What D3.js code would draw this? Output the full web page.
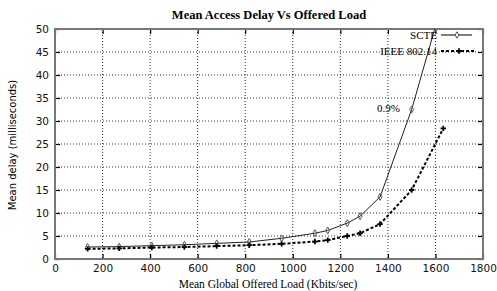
<!DOCTYPE html>
<html>
<head>
<meta charset="utf-8">
<script src="https://cdn.jsdelivr.net/npm/d3@7"></script>
<style>
  body { margin: 0; background: #fff; }
  svg { display: block; }
</style>
</head>
<body>
<svg id="chart" width="497" height="291"></svg>
<script>
// offered load (Kbits/sec)
var load_scte = [137, 270, 407, 544, 680, 817, 953, 1093, 1147, 1229, 1283, 1367, 1500, 1630]
var delay_scte = [2.6, 2.7, 2.9, 3.1, 3.4, 3.7, 4.5, 5.6, 6.2, 7.8, 9.3, 13.5, 32.5, 56]
var load_ieee = [137, 270, 407, 544, 680, 817, 953, 1093, 1147, 1229, 1283, 1367, 1500, 1633]
var delay_ieee = [2.2, 2.3, 2.5, 2.6, 2.8, 3.0, 3.3, 3.8, 4.1, 5.0, 5.6, 7.6, 15, 28.4]
var x_ticks = [0, 200, 400, 600, 800, 1000, 1200, 1400, 1600, 1800]
var y_ticks = [0, 5, 10, 15, 20, 25, 30, 35, 40, 45, 50]

var svg = d3.select('#chart')
var margin = {'top': 29, 'right': 14, 'bottom': 32, 'left': 55}
var w = 497 - margin.left - margin.right
var h = 291 - margin.top - margin.bottom

var x = d3.scaleLinear().domain([0, 1800]).range([0, w])
var y = d3.scaleLinear().domain([0, 50]).range([h, 0])

svg.append('defs').append('clipPath').attr('id', 'clip')
	.append('rect').attr('width', w).attr('height', h)

var g = svg.append('g')
	.attr('transform', 'translate(' + margin.left + ',' + margin.top + ')')

// dotted grid
g.append('g').selectAll('line').data(x_ticks.slice(1, -1)).enter().append('line')
	.attr('x1', function(d) { return x(d) }).attr('x2', function(d) { return x(d) })
	.attr('y1', 0).attr('y2', h)
	.attr('stroke', '#333').attr('stroke-width', 1).attr('stroke-dasharray', '1,2')
g.append('g').selectAll('line').data(y_ticks.slice(1, -1)).enter().append('line')
	.attr('y1', function(d) { return y(d) }).attr('y2', function(d) { return y(d) })
	.attr('x1', 0).attr('x2', w)
	.attr('stroke', '#333').attr('stroke-width', 1).attr('stroke-dasharray', '1,2')

// axes with inward ticks
var fmt = d3.format('d')
g.append('g').attr('transform', 'translate(0,' + h + ')')
	.call(d3.axisBottom(x).tickValues(x_ticks).tickSizeInner(-5).tickSizeOuter(0).tickPadding(6).tickFormat(fmt))
g.append('g')
	.call(d3.axisTop(x).tickValues(x_ticks).tickSizeInner(-5).tickSizeOuter(0).tickFormat(''))
g.append('g')
	.call(d3.axisLeft(y).tickValues(y_ticks).tickSizeInner(-5).tickSizeOuter(0).tickPadding(6).tickFormat(fmt))
g.append('g').attr('transform', 'translate(' + w + ',0)')
	.call(d3.axisRight(y).tickValues(y_ticks).tickSizeInner(-5).tickSizeOuter(0).tickFormat(''))

g.selectAll('.domain').remove()
g.selectAll('.tick line').attr('stroke', '#000').attr('stroke-width', 1.2)
g.selectAll('.tick text').attr('font-family', 'DejaVu Sans').attr('font-size', 10.5).attr('fill', '#111')

// frame
g.append('rect').attr('width', w).attr('height', h)
	.attr('fill', 'none').attr('stroke', '#777').attr('stroke-width', 2)

var plot = g.append('g').attr('clip-path', 'url(#clip)')

var scte = d3.zip(load_scte, delay_scte)
var ieee = d3.zip(load_ieee, delay_ieee)
var line = d3.line().x(function(d) { return x(d[0]) }).y(function(d) { return y(d[1]) })

plot.append('path').datum(scte).attr('d', line)
	.attr('fill', 'none').attr('stroke', '#222').attr('stroke-width', 1)
plot.append('path').datum(ieee).attr('d', line)
	.attr('fill', 'none').attr('stroke', '#000').attr('stroke-width', 2).attr('stroke-dasharray', '3,2')

plot.selectAll('.dia').data(scte).enter().append('path')
	.attr('d', d3.symbol(d3.symbolDiamond, 14))
	.attr('transform', function(d) { return 'translate(' + x(d[0]) + ',' + y(d[1]) + ')' })
	.attr('fill', 'none').attr('stroke', '#555').attr('stroke-width', 1)
plot.selectAll('.plus').data(ieee).enter().append('path')
	.attr('d', d3.symbol(d3.symbolCross, 16))
	.attr('transform', function(d) { return 'translate(' + x(d[0]) + ',' + y(d[1]) + ')' })
	.attr('fill', '#000')

// legend
var lg = g.append('g')
lg.append('text').attr('x', 382).attr('y', 10).attr('text-anchor', 'end')
	.attr('font-family', 'Liberation Serif').attr('font-size', 11).text('SCTE')
lg.append('line').attr('x1', 386).attr('x2', 417).attr('y1', 6).attr('y2', 6)
	.attr('stroke', '#000').attr('stroke-width', 1)
lg.append('path').attr('d', d3.symbol(d3.symbolDiamond, 12)).attr('transform', 'translate(402,6)')
	.attr('fill', '#fff').attr('stroke', '#555')
lg.append('text').attr('x', 382).attr('y', 26).attr('text-anchor', 'end')
	.attr('font-family', 'Liberation Serif').attr('font-size', 11).text('IEEE 802.14')
lg.append('line').attr('x1', 386).attr('x2', 421).attr('y1', 22).attr('y2', 22)
	.attr('stroke', '#000').attr('stroke-width', 2).attr('stroke-dasharray', '3,2')
lg.append('path').attr('d', d3.symbol(d3.symbolCross, 16)).attr('transform', 'translate(404,22)')
	.attr('fill', '#000')

g.append('text').attr('x', 322).attr('y', 83)
	.attr('font-family', 'Liberation Serif').attr('font-size', 11).text('0.9%')

// titles
svg.append('text').attr('x', 269).attr('y', 19).attr('text-anchor', 'middle')
	.attr('font-family', 'Liberation Serif').attr('font-weight', 'bold').attr('font-size', 12.5)
	.text('Mean Access Delay Vs Offered Load')
svg.append('text').attr('x', 268).attr('y', 288).attr('text-anchor', 'middle')
	.attr('font-family', 'Liberation Serif').attr('font-size', 11.5)
	.text('Mean Global Offered Load (Kbits/sec)')
svg.append('text').attr('transform', 'translate(16,145) rotate(-90)').attr('text-anchor', 'middle')
	.attr('font-family', 'DejaVu Sans').attr('font-size', 10)
	.text('Mean delay (milliseconds)')
</script>
</body>
</html>
